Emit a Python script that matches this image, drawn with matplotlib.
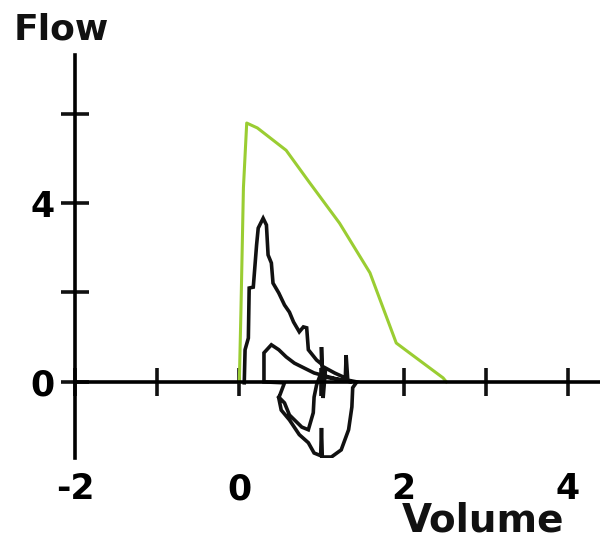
import matplotlib
matplotlib.use('Agg')
from matplotlib import pyplot as plt

# best effort (green) loop: volume in L, flow in L/s
green_volume = [0.0, 0.02, 0.05, 0.09, 0.22, 0.57, 0.85, 1.22, 1.59, 1.91, 2.07, 2.48, 2.52]
green_flow = [0.0, 1.61, 4.34, 5.79, 5.68, 5.18, 4.47, 3.55, 2.44, 0.87, 0.65, 0.09, 0.0]

# tidal breathing trace (black)
trace_volume = [0.06, 0.07, 0.11, 0.12, 0.17, 0.21, 0.23, 0.29, 0.33, 0.35,
                0.39, 0.41, 0.48, 0.55, 0.61, 0.66, 0.73, 0.78, 0.82, 0.84,
                0.94, 1.00, 1.00, 1.02, 1.05, 1.16, 1.29, 1.30, 1.32, 1.43,
                1.38, 1.37, 1.33, 1.24, 1.12, 1.01, 1.00, 0.99, 0.91, 0.84,
                0.73, 0.61, 0.51, 0.48, 0.55, 0.30, 0.30, 0.39, 0.48, 0.57,
                0.67, 0.79, 0.91, 1.09, 1.24, 1.37, 0.98, 0.94, 0.91, 0.90,
                0.84, 0.76, 0.61, 0.55, 0.48]
trace_flow = [-0.02, 0.72, 0.98, 2.10, 2.12, 3.06, 3.44, 3.66, 3.51, 2.84,
              2.66, 2.21, 1.99, 1.72, 1.56, 1.34, 1.12, 1.23, 1.21, 0.72,
              0.49, 0.40, 0.78, -0.36, 0.31, 0.20, 0.09, 0.60, 0.04, 0.00,
              -0.13, -0.56, -1.07, -1.52, -1.68, -1.68, -1.03, -1.65, -1.59, -1.36,
              -1.18, -0.85, -0.63, -0.36, -0.02, 0.00, 0.65, 0.83, 0.72, 0.56,
              0.42, 0.31, 0.20, 0.11, 0.04, 0.00, 0.13, -0.07, -0.34, -0.69,
              -1.07, -1.01, -0.74, -0.47, -0.34]

x_ticks = [-2, 0, 2, 4]
x_labels = ['-2', '0', '2', '4']
x_minor = [-1, 1, 3]
y_ticks = [0, 4]
y_labels = ['0', '4']
y_minor = [2, 6]

plt.rcParams['font.family'] = ['DejaVu Sans']
plt.rcParams['font.weight'] = 'bold'

fig = plt.figure(figsize=(6, 5.4), dpi=100)
ax = fig.add_axes([0.125, 0.152, 0.875, 0.746])

ax.plot(trace_volume, trace_flow, color='#111111', lw=2.6, solid_joinstyle='miter')
ax.plot(green_volume, green_flow, color='#9acd32', lw=2.2)

ax.set_xlim(-2, 4.39)
ax.set_ylim(-1.7, 7.31)

ax.spines['top'].set_visible(False)
ax.spines['right'].set_visible(False)
ax.spines['bottom'].set_position(('data', 0))
ax.spines['bottom'].set_linewidth(2.6)
ax.spines['left'].set_linewidth(2.6)

ax.set_xticks(x_ticks)
ax.set_xticklabels(x_labels)
ax.set_xticks(x_minor, minor=True)
ax.set_yticks(y_ticks)
ax.set_yticklabels(y_labels)
ax.set_yticks(y_minor, minor=True)

ax.tick_params(which='both', direction='inout', length=20, width=2.6, color='#111111')
ax.tick_params(axis='x', which='major', pad=55, labelsize=25)
ax.tick_params(axis='y', which='major', pad=5, labelsize=25)

fig.text(0.022, 0.926, 'Flow', fontsize=26, fontweight='bold', color='#111111', va='baseline')
fig.text(0.805, 0.015, 'Volume', fontsize=28, fontweight='bold', color='#111111',
         va='baseline', ha='center')

fig.savefig('out.png', dpi=100)
